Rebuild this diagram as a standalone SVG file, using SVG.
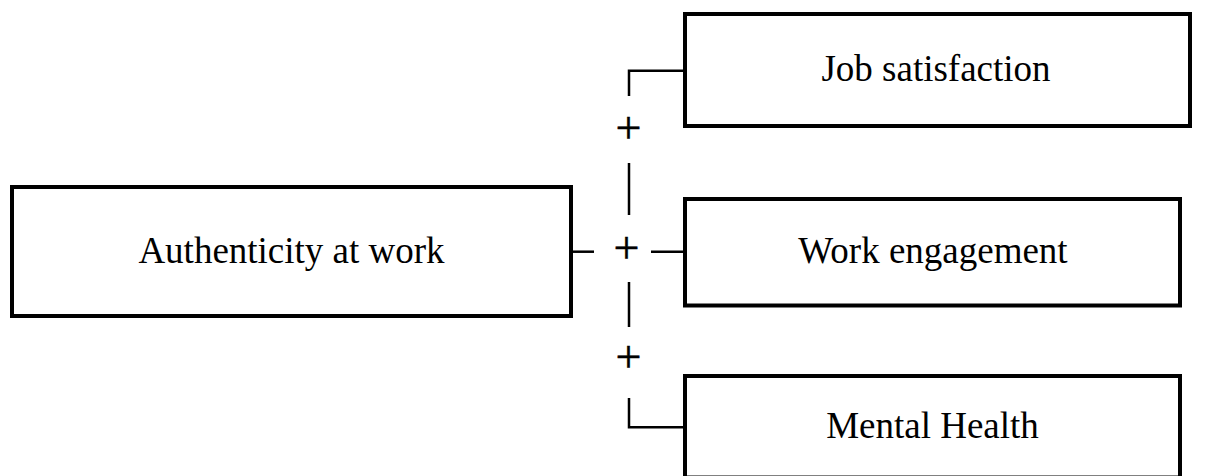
<svg xmlns="http://www.w3.org/2000/svg" width="1227" height="476" viewBox="0 0 1227 476">
<style>
.box{fill:#fff;stroke:#000;stroke-width:4}
.lbl{font-family:"Liberation Serif","Times New Roman",serif;font-size:37px;fill:#000;text-anchor:middle}
.plus{font-family:"Liberation Serif","Times New Roman",serif;font-size:46px;fill:#000;stroke:#000;stroke-width:0.5;text-anchor:middle}
.conn{fill:none;stroke:#000;stroke-width:2.5}
</style>
<rect width="1227" height="476" fill="#fff"/>
<g id="connectors">
<path class="conn" d="M629,96 V70.7 H685"/>
<path class="conn" d="M629,163 V215"/>
<path class="conn" d="M572,251.7 H594"/>
<path class="conn" d="M651,251.7 H685"/>
<path class="conn" d="M629,282 V327"/>
<path class="conn" d="M629,398 V427.3 H685"/>
<text class="plus" x="628.5" y="143">+</text>
<text class="plus" x="626.5" y="263">+</text>
<text class="plus" x="628.5" y="371.5">+</text>
</g>
<g id="authenticity">
<rect class="box" x="12" y="187" width="559" height="129"/>
<text class="lbl" x="291.5" y="263">Authenticity at work</text>
</g>
<g id="job-satisfaction">
<rect class="box" x="685" y="14" width="505" height="112"/>
<text class="lbl" x="936" y="81">Job satisfaction</text>
</g>
<g id="work-engagement">
<rect class="box" x="685" y="199" width="495" height="106.5"/>
<text class="lbl" x="933" y="263">Work engagement</text>
</g>
<g id="mental-health">
<rect class="box" x="685" y="376" width="495" height="101.5"/>
<text class="lbl" x="932.5" y="438">Mental Health</text>
</g>
</svg>
